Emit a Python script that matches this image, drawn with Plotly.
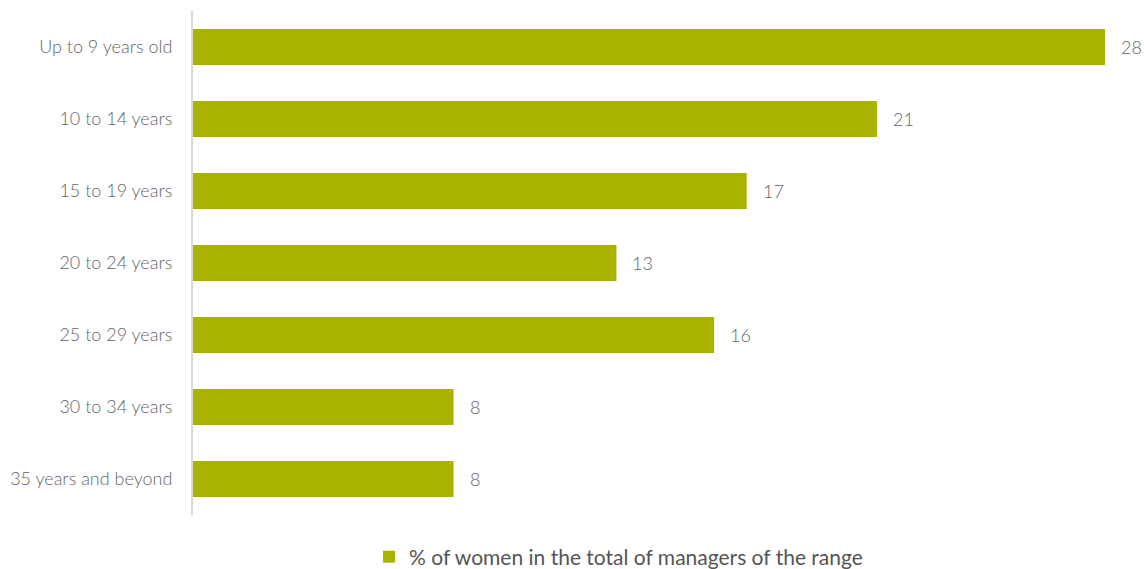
import plotly.graph_objects as go

# Share of women among managers, by length of service
categories = [
    "Up to 9 years old",
    "10 to 14 years",
    "15 to 19 years",
    "20 to 24 years",
    "25 to 29 years",
    "30 to 34 years",
    "35 years and beyond",
]
women_pct = [28, 21, 17, 13, 16, 8, 8]
series_name = "% of women in the total of managers of the range"

BAR_COLOR = "#A8B400"
TEXT_COLOR = "#666666"
FONT = "Lato, 'Open Sans', sans-serif"

fig = go.Figure()
fig.add_trace(
    go.Bar(
        x=women_pct,
        y=categories,
        orientation="h",
        name=series_name,
        marker=dict(color=BAR_COLOR, line=dict(width=0)),
        width=0.5,
        showlegend=True,
    )
)

# value labels just past the end of each bar
for cat, val in zip(categories, women_pct):
    fig.add_annotation(
        x=val, y=cat, xref="x", yref="y",
        text=str(val), showarrow=False,
        xanchor="left", xshift=14,
        font=dict(family=FONT, size=18, color=TEXT_COLOR, weight=300),
    )

fig.update_layout(
    width=1144, height=569,
    margin=dict(l=193, r=0, t=11, b=54, autoexpand=False),
    paper_bgcolor="white",
    plot_bgcolor="white",
    font=dict(family=FONT, size=18, color=TEXT_COLOR),
    bargap=0.5,
    legend=dict(
        orientation="h",
        xref="container", yref="container",
        x=(409 - 40) / 1144, xanchor="left",
        y=12 / 569, yanchor="middle",
        font=dict(family=FONT, size=21, color="#555555"),
        itemclick=False,
    ),
    xaxis=dict(
        range=[0, 28 * 951 / 912],
        showgrid=False, zeroline=False, showticklabels=False,
        showline=False,
    ),
    yaxis=dict(
        categoryorder="array",
        categoryarray=categories[::-1],
        showgrid=False, zeroline=False,
        showline=True, linecolor="#d9d9d9", linewidth=2,
        ticks="", ticklabelstandoff=15,
        tickfont=dict(family=FONT, size=18, color=TEXT_COLOR, weight=300),
    ),
)

fig.write_html("out.html")
